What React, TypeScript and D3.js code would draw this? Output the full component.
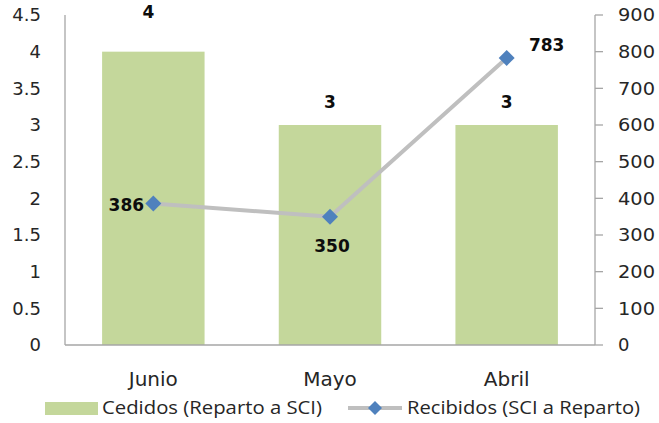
import React from "react";
import * as d3 from "d3";

const categories = ["Junio", "Mayo", "Abril"];
const cedidos = [4, 3, 3];
const recibidos = [386, 350, 783];
const leftTicks = [0, 0.5, 1, 1.5, 2, 2.5, 3, 3.5, 4, 4.5];
const rightTicks = [0, 100, 200, 300, 400, 500, 600, 700, 800, 900];
const seriesNames = ["Cedidos (Reparto a SCI)", "Recibidos (SCI a Reparto)"];

const W = 659, H = 423;
const L = 65, R = 595, T = 15, B = 345;
const tickFont = "DejaVu Sans, Verdana, sans-serif";
const legFont = "'Open Sans', sans-serif";

export default function App() {
  const x = d3.scaleBand().domain(categories).range([L, R]).paddingInner(0.42).paddingOuter(0.21);
  const yL = d3.scaleLinear().domain([0, 4.5]).range([B, T]);
  const yR = d3.scaleLinear().domain([0, 900]).range([B, T]);
  const cx = (c: string) => (x(c) as number) + x.bandwidth() / 2;
  const line = d3.line<number>().x((_, i) => cx(categories[i])).y((d) => yR(d));
  const diamond = (px: number, py: number, s: number) =>
    `M${px},${py - s} L${px + s},${py} L${px},${py + s} L${px - s},${py} Z`;
  const labelPos = [
    { dx: -27, dy: 1 },
    { dx: 2, dy: 29 },
    { dx: 40, dy: -13 },
  ];
  const barLabelY = [12, 102, 102];
  const barLabelDx = [-5, 0, 0];
  return (
    <svg width={W} height={H} style={{ position: "absolute", left: 0, top: 0 }}>
      <rect width={W} height={H} fill="#fff" />
      {categories.map((c, i) => (
        <rect key={c} x={x(c)} y={yL(cedidos[i])} width={x.bandwidth()} height={B - yL(cedidos[i])} fill="#c4d79b" />
      ))}
      {/* axes */}
      <line x1={L} x2={L} y1={T} y2={B} stroke="#a6a6a6" strokeWidth={1.3} />
      <line x1={L} x2={R} y1={B} y2={B} stroke="#a6a6a6" strokeWidth={1.3} />
      <line x1={R} x2={R} y1={T} y2={B} stroke="#a6a6a6" strokeWidth={1.3} />
      {rightTicks.map((t) => (
        <line key={t} x1={R} x2={R + 8} y1={yR(t)} y2={yR(t)} stroke="#a6a6a6" strokeWidth={1.3} />
      ))}
      {leftTicks.map((t) => (
        <text key={t} x={41} y={yL(t)} dy="0.36em" textAnchor="end" fontFamily={tickFont} fontSize={18} fill="#262626">
          {t}
        </text>
      ))}
      {rightTicks.map((t) => (
        <text key={t} x={618} y={yR(t)} dy="0.36em" textAnchor="start" fontFamily={tickFont} fontSize={18} fill="#262626" textLength={t === 0 ? undefined : 37} lengthAdjust="spacingAndGlyphs">
          {t}
        </text>
      ))}
      {categories.map((c) => (
        <text key={c} x={cx(c)} y={386} textAnchor="middle" fontFamily={tickFont} fontSize={20} fill="#262626">
          {c}
        </text>
      ))}
      {/* bar labels */}
      {categories.map((c, i) => (
        <text key={c} x={cx(c) + barLabelDx[i]} y={barLabelY[i]} dy="0.36em" textAnchor="middle" fontFamily={tickFont} fontWeight="bold" fontSize={17} fill="#0d0d0d">
          {cedidos[i]}
        </text>
      ))}
      <path d={line(recibidos) as string} fill="none" stroke="#bfbfbf" strokeWidth={4} strokeLinejoin="round" />
      {categories.map((c, i) => (
        <path key={c} d={diamond(cx(c), yR(recibidos[i]), 8)} fill="#4f81bd" />
      ))}
      {categories.map((c, i) => (
        <text key={c} x={cx(c) + labelPos[i].dx} y={yR(recibidos[i]) + labelPos[i].dy} dy="0.36em" textAnchor="middle" fontFamily={tickFont} fontWeight="bold" fontSize={17} fill="#0d0d0d">
          {recibidos[i]}
        </text>
      ))}
      {/* legend */}
      <rect x={45} y={402} width={53} height={13} fill="#c4d79b" />
      <text x={102} y={408} dy="0.36em" fontFamily={legFont} fontSize={18} fill="#262626" textLength={220} lengthAdjust="spacingAndGlyphs">{seriesNames[0]}</text>
      <line x1={348} x2={402} y1={408} y2={408} stroke="#bfbfbf" strokeWidth={4} />
      <path d={diamond(375, 408, 7)} fill="#4f81bd" />
      <text x={407} y={408} dy="0.36em" fontFamily={legFont} fontSize={18} fill="#262626" textLength={233} lengthAdjust="spacingAndGlyphs">{seriesNames[1]}</text>
    </svg>
  );
}
